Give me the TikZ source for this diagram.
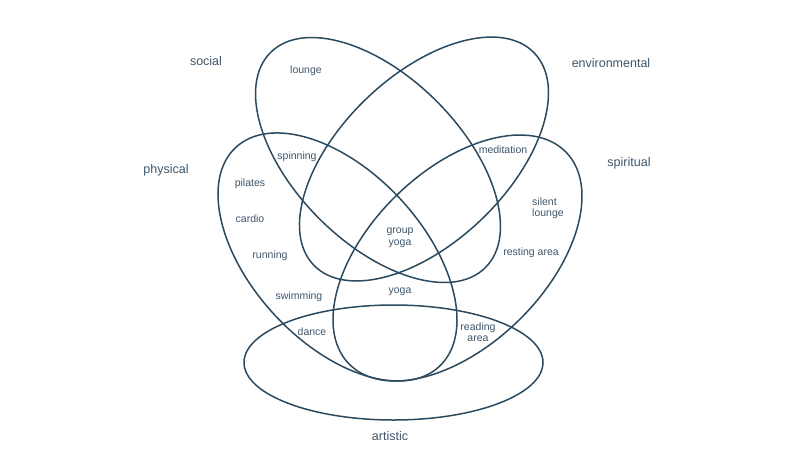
\documentclass[tikz,border=0pt]{standalone}
\usepackage{fontspec}
\setmainfont{Liberation Sans}
\definecolor{edge}{HTML}{2B4A5F}
\definecolor{ink}{HTML}{3F566B}
\begin{document}
\begin{tikzpicture}[x=1pt,y=-1pt,
  setline/.style={draw=edge,line width=1.5pt},
  lbl/.style={text=ink,font=\fontsize{10.5}{11.5}\selectfont,inner sep=0pt,align=center},
  setname/.style={text=ink,font=\fontsize{12.5}{14}\selectfont,inner sep=0pt}]
\useasboundingbox[fill=white] (0,0) rectangle (800,450);
% sets
\coordinate (cs) at (378,160);
\coordinate (ce) at (424,159);
\coordinate (cp) at (337.5,257);
\coordinate (cq) at (457.5,258);
\coordinate (ca) at (393.5,362.5);
\draw[setline,rotate around={-45:(cs)}] (cs) ellipse [x radius=152, y radius=83];
\draw[setline,rotate around={43.9:(ce)}] (ce) ellipse [x radius=153, y radius=83.4];
\draw[setline,rotate around={-47.1:(cp)}] (cp) ellipse [x radius=149.5, y radius=85.5];
\draw[setline,rotate around={44.3:(cq)}] (cq) ellipse [x radius=151.6, y radius=87.4];
\draw[setline] (ca) ellipse [x radius=149.5, y radius=57.5];
% set names
\node[setname] (nsoc) at (206,61) {social};
\node[setname] (nenv) at (611,63) {environmental};
\node[setname] (nphy) at (166,170) {physical};
\node[setname] (nspi) at (629,163) {spiritual};
\node[setname] (nart) at (390,436) {artistic};
% items
\node[lbl] (lounge) at (306,70.5) {lounge};
\node[lbl] (spinning) at (297,156.5) {spinning};
\node[lbl] (pilates) at (250,183.5) {pilates};
\node[lbl] (cardio) at (250,218.5) {cardio};
\node[lbl] (running) at (270,255.5) {running};
\node[lbl] (swimming) at (299,296.5) {swimming};
\node[lbl] (dance) at (312,331.5) {dance};
\node[lbl] (meditation) at (503,149.5) {meditation};
\node[lbl,align=left] (silent) at (548,208.5) {silent\\lounge};
\node[lbl] (resting) at (531,252.5) {resting area};
\node[lbl] (group) at (400,238) {group\\yoga};
\node[lbl] (yoga) at (400,291.5) {yoga};
\node[lbl] (reading) at (478,332) {reading\\area};
\end{tikzpicture}
\end{document}
